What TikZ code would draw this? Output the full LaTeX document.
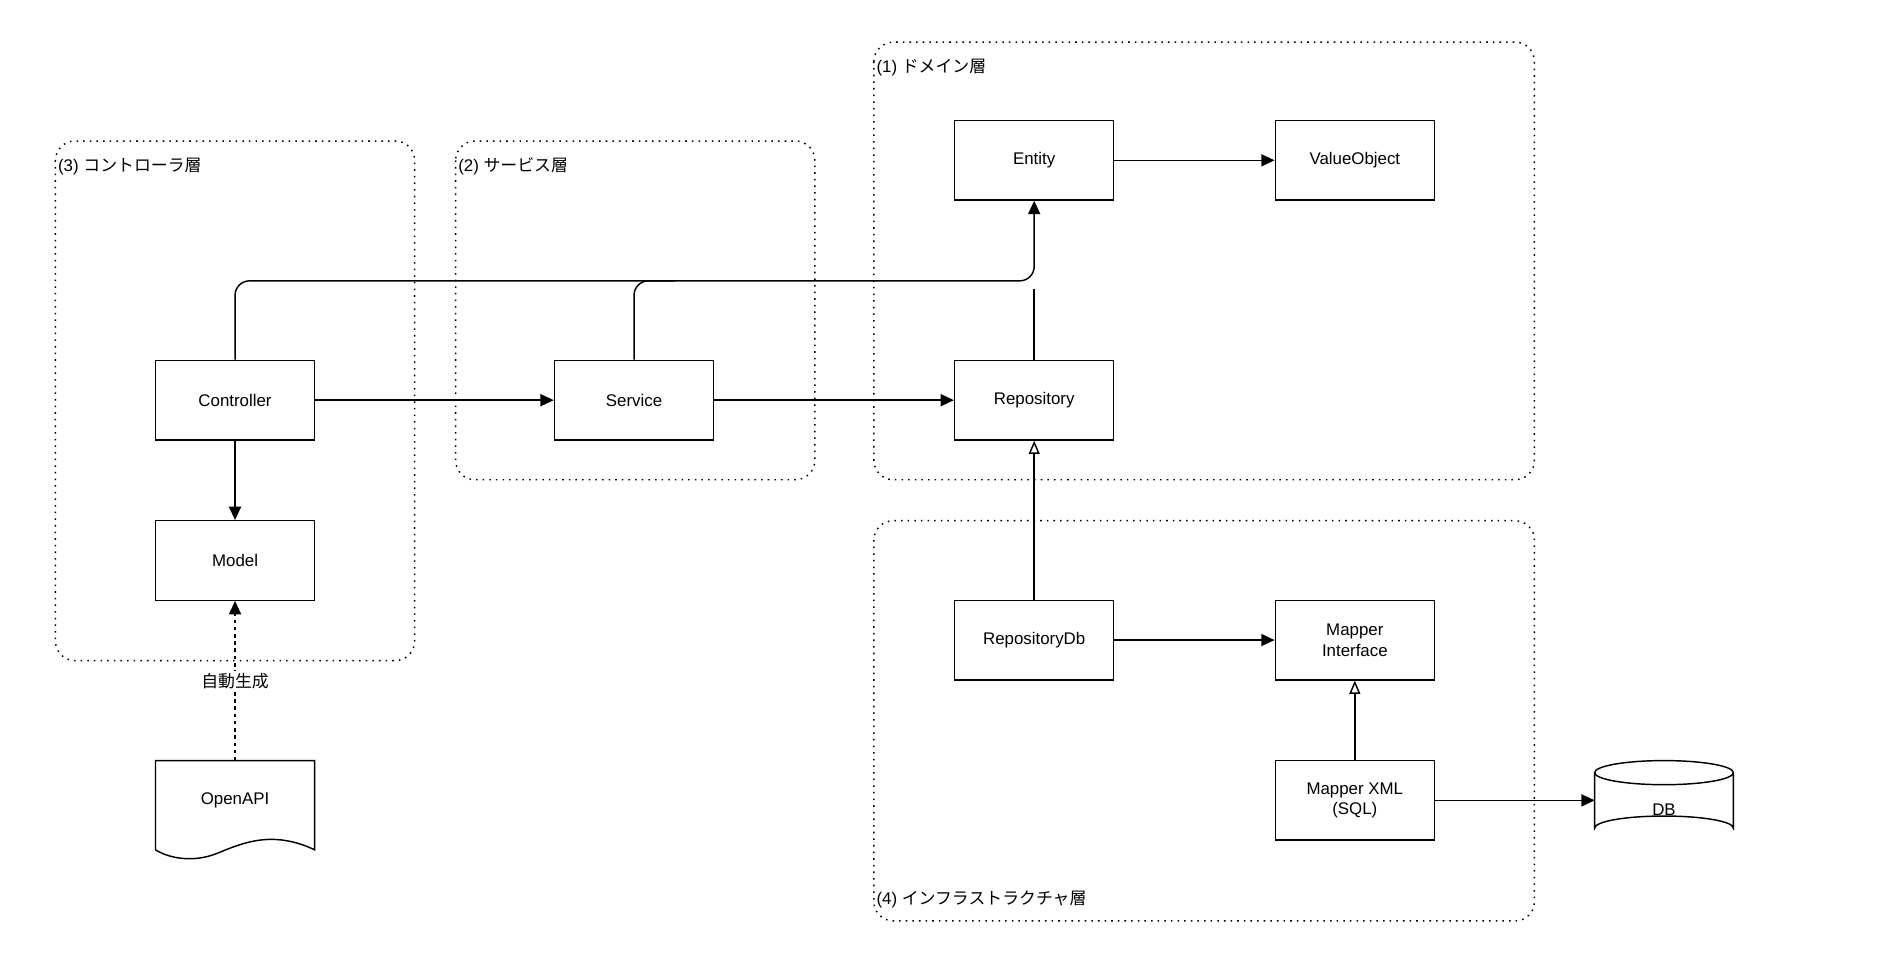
\documentclass[tikz,border=0pt]{standalone}
\usepackage{fontspec}
\setmainfont{Liberation Sans}
\newfontfamily\cjk{Noto Sans CJK JP}
\usetikzlibrary{arrows.meta}
\begin{document}
\begin{tikzpicture}[x=1pt,y=-1pt,
  box/.style={draw,line width=1.2pt,minimum width=132pt,minimum height=66pt,font=\fontsize{14}{17}\selectfont,align=center,inner sep=0},
  grp/.style={draw,line width=1.2pt,dash pattern=on 1.3pt off 4.2pt,rounded corners=16pt},
  lab/.style={anchor=west,font=\fontsize{14}{17}\selectfont,inner sep=0},
  arr/.style={line width=1.2pt,-{Triangle[length=11pt,width=10pt]}},
  inh/.style={line width=1.2pt,-{Triangle[open,length=11pt,width=9pt]}}]
\useasboundingbox (0,0) rectangle (1568,811);
% groups
\draw[grp] (46,117) rectangle (344,548);
\draw[grp] (378,117) rectangle (676,398);
\draw[grp] (725,35) rectangle (1273,398);
\draw[grp] (725,432) rectangle (1273,764);
\node[lab] (l3) at (48,138) {(3) {\cjk コントローラ層}};
\node[lab] (l2) at (380,138) {(2) {\cjk サービス層}};
\node[lab] (l1) at (727,56) {(1) {\cjk ドメイン層}};
\node[lab] (l4) at (727,746) {(4) {\cjk インフラストラクチャ層}};
% boxes
\node[box] (ctrl) at (195,332) {Controller};
\node[box] (model) at (195,465) {Model};
\node[box] (svc) at (526,332) {Service};
\node[box] (repo) at (858,332) {Repository};
\node[box] (ent) at (858,133) {Entity};
\node[box] (vo) at (1124,133) {ValueObject};
\node[box] (rdb) at (858,531) {RepositoryDb};
\node[box] (mi) at (1124,531) {Mapper\\Interface};
\node[box] (mx) at (1124,664) {Mapper XML\\(SQL)};
% document
\draw[line width=1.2pt] (129,631) -- (261,631) -- (261,705)
  .. controls (225,688) and (200,700) .. (180,708)
  .. controls (160,716) and (140,712) .. (129,705) -- cycle;
\node[font=\fontsize{14}{17}\selectfont] (oa) at (195,664) {OpenAPI};
% cylinder
\draw[line width=1.2pt] (1323,641) -- (1323,687) arc[start angle=180,end angle=360,x radius=57.5,y radius=10] -- (1438,641);
\draw[line width=1.2pt] (1380.5,641) ellipse[x radius=57.5,y radius=10];
\node[font=\fontsize{14}{17}\selectfont] (db) at (1380.5,672) {DB};
\coordinate (dbw) at (1323,664);
% connectors
\draw[arr,rounded corners=12pt] (ctrl.north) -- (195,233) -- (858,233) -- (ent.south);
\draw[line width=1.2pt,rounded corners=12pt] (svc.north) -- (526,233) -- (560,233);
\draw[line width=1.2pt] (repo.north) -- (858,240);
\draw[arr] (ctrl) -- (svc);
\draw[arr] (svc) -- (repo);
\draw[arr] (ent) -- (vo);
\draw[arr] (ctrl) -- (model);
\draw[line width=1.2pt,dashed,-{Triangle[length=11pt,width=10pt]}] (195,631) -- node[fill=white,font=\cjk\fontsize{14}{17}\selectfont,inner sep=2pt] (gen) {自動生成} (model.south);
\draw[inh] (rdb) -- (repo);
\draw[arr] (rdb) -- (mi);
\draw[inh] (mx) -- (mi);
\draw[arr] (mx.east) -- (dbw);
\end{tikzpicture}
\end{document}
